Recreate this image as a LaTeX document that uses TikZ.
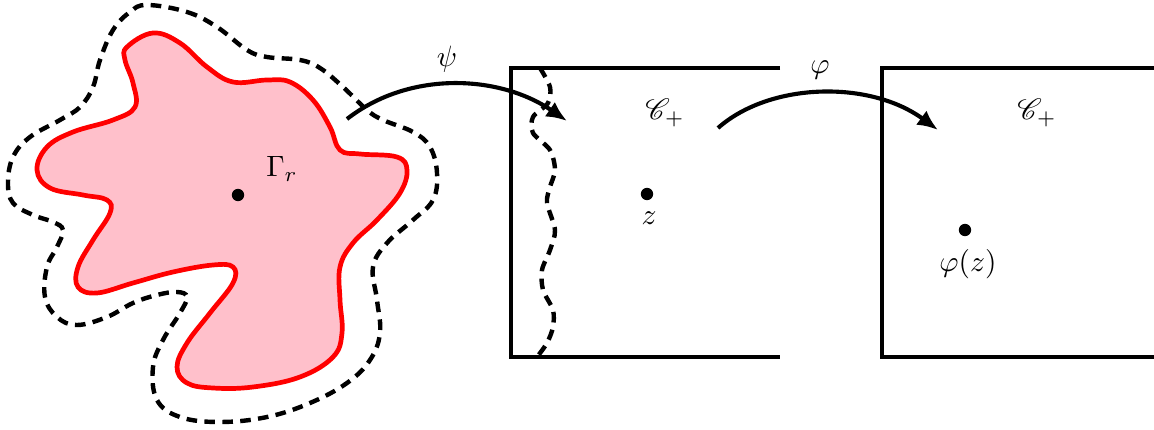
\documentclass[tikz,border=0pt]{standalone}
\usepackage{mathrsfs}
\usetikzlibrary{arrows.meta}
\definecolor{blobfill}{RGB}{255,192,203}
\tikzset{
  thk/.style={line width=1.4pt},
  redline/.style={line width=1.6pt, red},
  dashline/.style={line width=1.5pt, dash pattern=on 3.6pt off 2.5pt},
  maparrow/.style={thk, -{Latex[length=7pt,width=6pt]}},
  dotnode/.style={circle, fill=black, inner sep=0pt, minimum size=4.2pt},
  lbl/.style={inner sep=1pt}
}
\begin{document}
\begin{tikzpicture}[x=0.34pt,y=-0.34pt]
\useasboundingbox (0,0) rectangle (1154,430);
% red region
\draw[redline, fill=blobfill] plot[smooth cycle, tension=0.65] coordinates {
(127,47)(153,33)(180,43)(207,67)(233,82)(267,80)(290,82)(313,100)(330,127)(340,150)
(360,154)(397,157)(407,170)(400,193)(377,220)(353,243)(340,267)(340,300)(342,333)
(333,357)(300,377)(253,387)(213,388)(187,383)(177,367)(187,343)(210,313)(233,283)
(233,267)(213,265)(173,272)(133,283)(97,293)(78,287)(78,267)(93,240)(110,213)(107,200)
(83,195)(50,188)(37,170)(47,147)(73,132)(113,120)(135,107)(133,83)(125,60)};
% dashed neighbourhood
\draw[dashline] plot[smooth cycle, tension=0.65] coordinates {
(147,5)(187,12)(217,27)(247,50)(267,57)(300,60)(320,68)(343,87)(367,110)(383,120)
(413,132)(430,147)(437,173)(433,200)(413,220)(387,243)(373,267)(377,300)(380,333)
(370,360)(347,383)(310,403)(267,417)(220,422)(180,417)(157,400)(153,367)(163,340)
(180,313)(187,297)(177,292)(157,295)(133,303)(107,317)(77,325)(57,317)(45,297)
(47,267)(57,247)(63,230)(53,222)(33,215)(13,203)(8,183)(13,157)(30,137)(60,120)
(80,107)(93,87)(100,60)(113,30)(130,12)};
\node[dotnode] (g) at (238,195) {};
\node[lbl] (glab) at (282,169) {$\Gamma_r$};
% half-strips
\draw[thk] (780,68) -- (511,68) -- (511,357) -- (780,357);
\draw[thk] (1154,68) -- (882,68) -- (882,357) -- (1154,357);
% dashed wavy curve in first strip
\draw[dashline] plot[smooth, tension=0.5] coordinates {
(540,68)(550,87)(548,103)(533,117)(533,133)(550,150)(555,170)(550,187)(547,203)
(555,230)(550,250)(542,270)(543,290)(553,310)(553,327)(547,343)(537,357)};
\node[lbl] (c1) at (665,113) {$\mathscr{C}_+$};
\node[lbl] (c2) at (1037,113) {$\mathscr{C}_+$};
\node[dotnode] (z) at (647,194) {};
\node[lbl] (zlab) at (649,218) {$z$};
\node[dotnode] (pz) at (965,230) {};
\node[lbl] (pzlab) at (968,264) {$\varphi(z)$};
% maps
\coordinate (psiS) at (347,119);
\coordinate (psiE) at (567,121);
\coordinate (phiS) at (718,128);
\coordinate (phiE) at (938,130);
\draw[maparrow] (psiS) .. controls (410,70) and (500,75) .. (psiE);
\draw[maparrow] (phiS) .. controls (770,82) and (870,80) .. (phiE);
\node[lbl] (psi) at (447,59) {$\psi$};
\node[lbl] (phi) at (820,70) {$\varphi$};
\end{tikzpicture}
\end{document}
